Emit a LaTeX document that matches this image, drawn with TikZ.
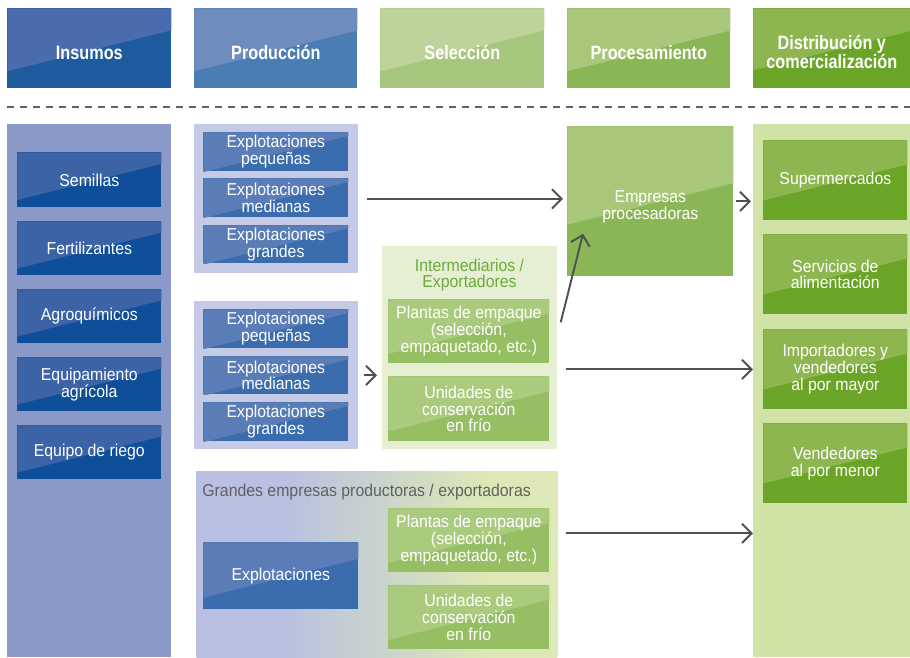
\documentclass[tikz,border=0pt]{standalone}
\usepackage{fontspec}
\setmainfont[FakeStretch=0.92]{Liberation Sans}
\newfontfamily\headfont[FakeStretch=0.84]{Liberation Sans}
\usetikzlibrary{calc,positioning,arrows.meta}

\definecolor{insL}{HTML}{4A6CAE}
\definecolor{insD}{HTML}{1D5A9E}
\definecolor{proL}{HTML}{6F8CBE}
\definecolor{proD}{HTML}{4A7DB3}
\definecolor{selL}{HTML}{BDD39A}
\definecolor{selD}{HTML}{A5C67C}
\definecolor{pcsL}{HTML}{A9C77A}
\definecolor{pcsD}{HTML}{8BB655}
\definecolor{disL}{HTML}{8DB650}
\definecolor{disD}{HTML}{6AA527}
\definecolor{insPanel}{HTML}{8A99C8}
\definecolor{proPanel}{HTML}{C5CAE6}
\definecolor{selPanel}{HTML}{E6EFD3}
\definecolor{disPanel}{HTML}{D1E2A6}
\definecolor{insBoxL}{HTML}{3C63A6}
\definecolor{insBoxD}{HTML}{0F4F9A}
\definecolor{explL}{HTML}{5A7DB8}
\definecolor{explD}{HTML}{3B6DAE}
\definecolor{selBoxL}{HTML}{AACA7E}
\definecolor{selBoxD}{HTML}{96BE62}
\definecolor{grandL}{HTML}{B9C0E1}
\definecolor{grandR}{HTML}{DDE8B6}
\definecolor{selText}{HTML}{6DAA3A}
\definecolor{arrgray}{HTML}{505050}
\pgfdeclarehorizontalshading{grandshade}{100bp}{color(0bp)=(grandL); color(37bp)=(grandL); color(65bp)=(grandR); color(100bp)=(grandR)}

\begin{document}
\begin{tikzpicture}[x=0.02cm, y=-0.02cm
    ,twotone/.style 2 args={fill=#2, path picture={
        \fill[#1] let \p1=(path picture bounding box.south west), \p2=(path picture bounding box.north east) in
          (\x1,\y2) -- (\x2,\y2) -- (\x2,{(\y1+\y2)/2+0.11*(\x2-\x1)}) -- (\x1,{(\y1+\y2)/2-0.14*(\x2-\x1)}) -- cycle;}}
    ,sz/.style 2 args={minimum width=#1*0.02cm, minimum height=#2*0.02cm}
    ,head/.style={anchor=north west, inner sep=0pt, text=white, align=center, execute at begin node={\rule{0pt}{12.5pt}}, font=\headfont\fontsize{11}{10.5}\selectfont\bfseries}
    ,panel/.style={anchor=north west, inner sep=0pt}
    ,box/.style={anchor=north west, inner sep=0pt, text=white, align=center, font=\fontsize{9.8}{9.6}\selectfont}
    ,ins/.style={box, twotone={insBoxL}{insBoxD}}
    ,expl/.style={box, twotone={explL}{explD}}
    ,sel/.style={box, twotone={selBoxL}{selBoxD}}
    ,dis/.style={box, twotone={disL}{disD}}
    ,dashline/.style={draw=arrgray!90, line width=1.4pt, dash pattern=on 4pt off 3.4pt}
    ,arr/.style={draw=arrgray, line width=1.1pt, -{Straight Barb[length=5.5pt,width=11pt]}}
  ]
  \useasboundingbox (0,0) rectangle (910,657);

  \node [head, sz={164}{80}, twotone={insL}{insD}] (hIns) at (7,8) {Insumos};
  \node [head, sz={163}{80}, twotone={proL}{proD}] (hPro) at (194,8) {Producción};
  \node [head, sz={164}{80}, twotone={selL}{selD}] (hSel) at (380,8) {Selección};
  \node [head, sz={163}{80}, twotone={pcsL}{pcsD}] (hPcs) at (567,8) {Procesamiento};
  \node [head, sz={157}{80}, twotone={disL}{disD}] (hDis) at (753,8) {\rule{0pt}{12pt}Distribución y\\comercialización};

  \coordinate (dashL) at (7,107);
  \coordinate (dashR) at (910,107);
  \draw [dashline] (dashL) -- (dashR);

  \node [panel, sz={164}{533}, fill=insPanel] (pIns) at (7,124) {};
  \node [panel, sz={164}{149}, fill=proPanel] (pPro1) at (194,124) {};
  \node [panel, sz={164}{148}, fill=proPanel] (pPro2) at (194,301) {};
  \node [panel, sz={175}{203}, fill=selPanel] (pSel) at (382,246) {};
  \node [panel, sz={361}{186}, shade, shading=grandshade] (pGrand) at (196,471) {};
  \node [panel, sz={157}{533}, fill=disPanel] (pDis) at (753,124) {};

  \node [ins, sz={144}{55}] (semillas) at (17,152) {Semillas};
  \node [ins, sz={144}{54}] (fert) at (17,221) {Fertilizantes};
  \node [ins, sz={144}{54}] (agro) at (17,289) {Agroquímicos};
  \node [ins, sz={144}{54}] (equipo) at (17,357) {Equipamiento\\agrícola};
  \node [ins, sz={144}{54}] (riego) at (17,425) {Equipo de riego};

  \node [expl, sz={145}{39}] (expA1) at (203,132) {Explotaciones\\pequeñas};
  \node [expl, sz={145}{39}] (expA2) at (203,178) {Explotaciones\\medianas};
  \node [expl, sz={145}{38}] (expA3) at (203,225) {Explotaciones\\grandes};
  \node [expl, sz={145}{39}] (expB1) at (203,309) {Explotaciones\\pequeñas};
  \node [expl, sz={145}{38}] (expB2) at (203,356) {Explotaciones\\medianas};
  \node [expl, sz={145}{39}] (expB3) at (203,402) {Explotaciones\\grandes};

  \node [text=selText, align=center, font=\fontsize{9.8}{9.6}\selectfont] (selTitle) at (469.5,275) {Intermediarios /\\Exportadores};
  \node [sel, sz={161}{64}] (plantasA) at (388,299) {Plantas de empaque\\(selección,\\empaquetado, etc.)};
  \node [sel, sz={161}{65}] (unidadesA) at (388,376) {Unidades de\\conservación\\en frío};

  \node [anchor=west, inner sep=0pt, text=black!62, font=\fontsize{9.8}{9.6}\selectfont] (grandTitle) at (202,492) {Grandes empresas productoras / exportadoras};
  \node [expl, sz={155}{67}] (explC) at (203,542) {Explotaciones};
  \node [sel, sz={161}{64}] (plantasC) at (388,508) {Plantas de empaque\\(selección,\\empaquetado, etc.)};
  \node [sel, sz={161}{64}] (unidadesC) at (388,585) {Unidades de\\conservación\\en frío};

  \node [box, sz={166}{150}, twotone={pcsL}{pcsD}] (empresas) at (567,126) {\rule{0pt}{12.7pt}Empresas\\procesadoras};

  \node [dis, sz={144}{80}] (super) at (763,140) {Supermercados};
  \node [dis, sz={144}{80}] (servicios) at (763,234) {Servicios de\\alimentación};
  \node [dis, sz={144}{80}] (importadores) at (763,329) {Importadores y\\vendedores\\al por mayor};
  \node [dis, sz={144}{80}] (vendedores) at (763,423) {Vendedores\\al por menor};

  \draw [arr, shorten <=8pt*0.567, shorten >=4pt*0.567] (pPro1.east) -- (pPro1.east -| empresas.west);
  \draw [arr, shorten <=5pt*0.567, shorten >=5pt*0.567] (pPro2.east) -- (pPro2.east -| pSel.west);
  \draw [arr, shorten <=2pt*0.567, shorten >=2pt*0.567] (empresas.east) -- (empresas.east -| pDis.west);
  \draw [arr] ($(plantasA.east)+(11,-9)$) -- ($(empresas.south west)+(16,-43)$);
  \draw [arr, shorten <=8pt*0.567] (pSel.east |- importadores.west) -- (pDis.west |- importadores.west);
  \draw [arr] ($(pGrand.east |- plantasC.east)+(8,-7)$) -- ($(pDis.west |- plantasC.east)+(0,-7)$);
\end{tikzpicture}
\end{document}
